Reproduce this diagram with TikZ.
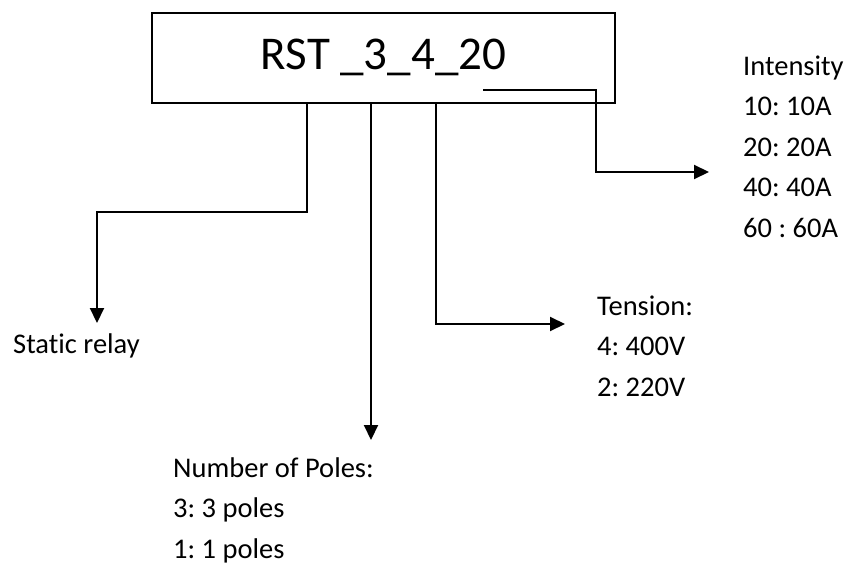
\documentclass[tikz,border=0pt]{standalone}
\usepackage{fontspec}
\setmainfont{Carlito}[Ligatures=NoCommon]
\usetikzlibrary{arrows.meta, positioning}
\newcommand\codefont{\fontsize{47}{56}\selectfont}
\newcommand\lblfont{\fontsize{28.5}{40.5}\selectfont\frenchspacing}

\begin{document}
\begin{tikzpicture}[
        x=1pt, y=-1pt,
        kasten/.style={draw, line width=1.7pt, minimum width=463pt,
                       minimum height=90pt, text height=24pt, text depth=0pt,
                       font=\codefont},
        lbl/.style={anchor=base west, align=left, inner xsep=0pt,
                    inner ysep=10pt, font=\lblfont},
        pfeil/.style={line width=2pt, -{Triangle[length=15pt, width=14pt]}},
      ]
      \useasboundingbox (0,0) rectangle (850,567);

      % Bezeichnung
      \node[kasten] (code) at (383.5,58) {RST \_3\_4\_20};

      % Erklaerungen (Anker: Grundlinie der letzten Zeile)
      \node[lbl] (relay) at (13,353) {Static relay};
      \node[lbl, inner ysep=17pt] (poles) at (173,558) {Number of Poles:\\3: 3 poles\\1: 1 poles};
      \node[lbl] (tension) at (597,396) {Tension:\\4: 400V\\2: 220V};
      \node[lbl] (intens) at (743,237) {Intensity\\10: 10A\\20: 20A\\40: 40A\\60 : 60A};

      \coordinate (u20) at (483,90);
      \coordinate (tipT) at (565,324);
      \coordinate (tipI) at (709,172);

      % Verbindungen
      \draw[pfeil] (code.south -| 307,0) |- (97,212) -- (relay.north -| 97,0);
      \draw[pfeil] (code.south -| 371,0) -- (poles.north -| 371,0);
      \draw[pfeil] (code.south -| 436,0) |- (tipT);
      \draw[pfeil] (u20) -| (596,172) -- (tipI);
    \end{tikzpicture}
\end{document}
